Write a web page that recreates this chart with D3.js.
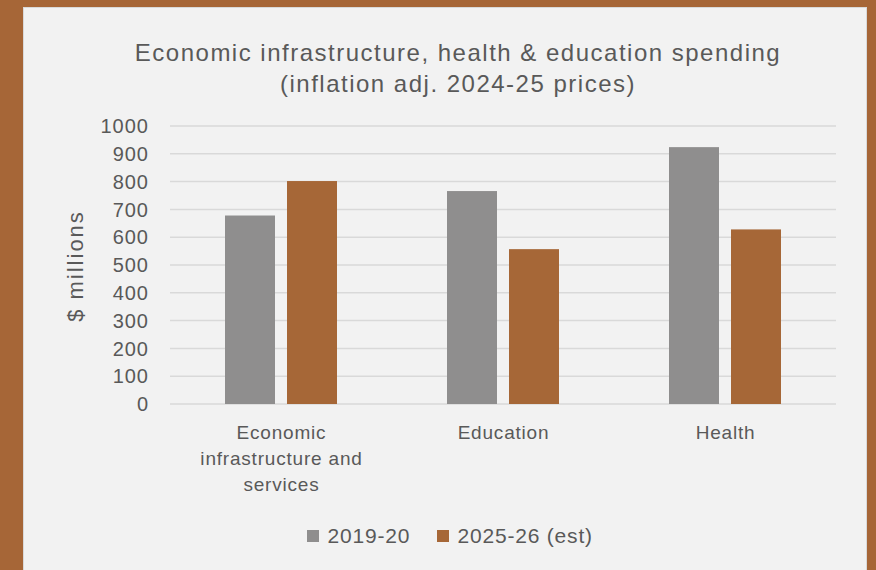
<!DOCTYPE html>
<html>
<head>
<meta charset="utf-8">
<script src="https://cdn.jsdelivr.net/npm/d3@7"></script>
<style>
  body { margin: 0; background: #a66637; }
  svg { display: block; }
</style>
</head>
<body>
<svg id="chart" width="876" height="570"></svg>
<script>
// chart values
const categories = ["Economic infrastructure and services", "Education", "Health"];
const categoryLines = [["Economic", "infrastructure and", "services"], ["Education"], ["Health"]];
const seriesNames = ["2019-20", "2025-26 (est)"];
const values2019 = [678, 766, 924];
const values2025 = [802, 557, 628];
const yTicks = [0, 100, 200, 300, 400, 500, 600, 700, 800, 900, 1000];

const colors = ["#8f8e8e", "#a66737"];
const font = "'Liberation Sans', Arial, sans-serif";
const textColor = "#595959";

const svg = d3.select("#chart");

// panel
svg.append("rect")
    .attr("x", 23.5).attr("y", 7.5)
    .attr("width", 843).attr("height", 570)
    .attr("fill", "#f2f2f2")
    .attr("stroke", "#d9d9d9");

const margin = { left: 170, right: 836, top: 126, bottom: 404 };

const x = d3.scaleBand()
    .domain(categories)
    .range([margin.left, margin.right]);

const y = d3.scaleLinear()
    .domain([0, 1000])
    .range([margin.bottom, margin.top]);

// gridlines
svg.append("g")
    .selectAll("line")
    .data(yTicks)
    .enter()
    .append("line")
    .attr("x1", margin.left)
    .attr("x2", margin.right)
    .attr("y1", d => y(d))
    .attr("y2", d => y(d))
    .attr("stroke", "#d9d9d9")
    .attr("stroke-width", 1.5);

// y tick labels
svg.append("g")
    .selectAll("text")
    .data(yTicks)
    .enter()
    .append("text")
    .attr("x", 149)
    .attr("y", d => y(d))
    .attr("dy", "0.36em")
    .attr("text-anchor", "end")
    .attr("font-family", font)
    .attr("font-size", 20)
    .attr("letter-spacing", 1)
    .attr("fill", textColor)
    .text(d => d);

// bars
const barWidth = 50, gap = 12;
const series = [values2019, values2025];
series.forEach((vals, si) => {
    svg.append("g")
        .selectAll("rect")
        .data(vals)
        .enter()
        .append("rect")
        .attr("x", (d, i) => x(categories[i]) + x.bandwidth() / 2 + (si === 0 ? -gap / 2 - barWidth : gap / 2))
        .attr("y", d => y(d))
        .attr("width", barWidth)
        .attr("height", d => y(0) - y(d))
        .attr("fill", colors[si]);
});

// category labels
categories.forEach((c, i) => {
    const t = svg.append("text")
        .attr("text-anchor", "middle")
        .attr("font-family", font)
        .attr("font-size", 19)
        .attr("letter-spacing", 0.8)
        .attr("fill", textColor);
    categoryLines[i].forEach((line, li) => {
        t.append("tspan")
            .attr("x", x(c) + x.bandwidth() / 2 + 0.5)
            .attr("y", 439 + li * 25.8)
            .text(line);
    });
});

// title
const title = svg.append("text")
    .attr("text-anchor", "middle")
    .attr("font-family", font)
    .attr("font-size", 24)
    .attr("letter-spacing", 1.5)
    .attr("fill", textColor);
title.append("tspan").attr("x", 458).attr("y", 61).text("Economic infrastructure, health & education spending");
title.append("tspan").attr("x", 458).attr("y", 92).text("(inflation adj. 2024-25 prices)");

// y axis title
svg.append("text")
    .attr("transform", "translate(83,266) rotate(-90)")
    .attr("text-anchor", "middle")
    .attr("font-family", font)
    .attr("font-size", 22)
    .attr("letter-spacing", 2)
    .attr("fill", textColor)
    .text("$ millions");

// legend
const legendX = [307, 437];
seriesNames.forEach((s, i) => {
    svg.append("rect")
        .attr("x", legendX[i]).attr("y", 530)
        .attr("width", 12).attr("height", 12)
        .attr("fill", colors[i]);
    svg.append("text")
        .attr("x", legendX[i] + 20.5).attr("y", 543)
        .attr("font-family", font)
        .attr("font-size", 21)
        .attr("letter-spacing", 0.8)
        .attr("fill", textColor)
        .text(s);
});
</script>
</body>
</html>
